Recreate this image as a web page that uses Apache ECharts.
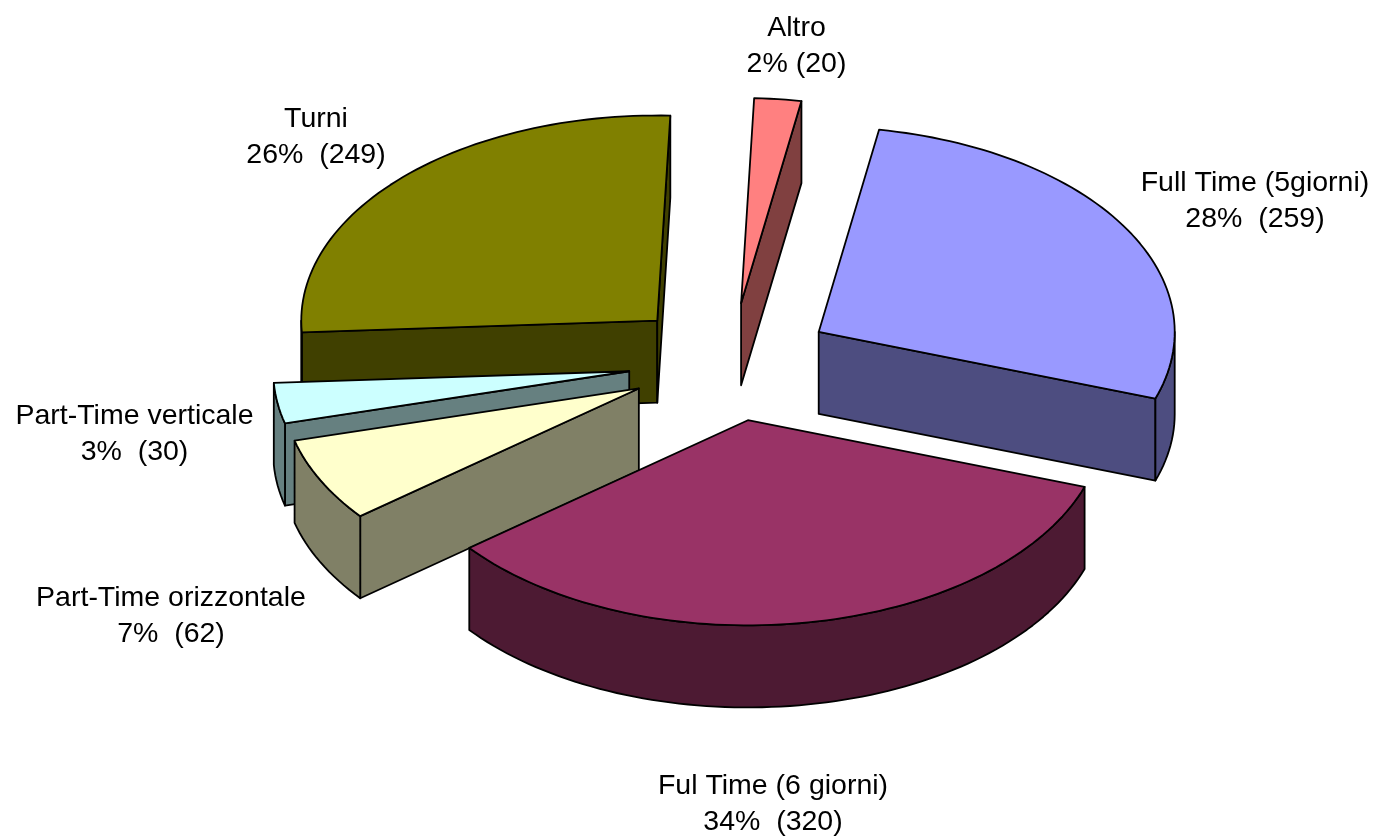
<!DOCTYPE html>
<html>
<head>
<meta charset="utf-8">
<style>html,body{margin:0;padding:0;background:#fff}#c{width:1375px;height:837px}</style>
<script src="https://cdn.jsdelivr.net/npm/echarts@6/dist/echarts.min.js"></script>
</head>
<body>
<div id="c"></div>
<script>
// Values in clockwise order, starting from the top of the pie
const names = ['Altro', 'Full Time (5giorni)', 'Ful Time (6 giorni)', 'Part-Time orizzontale', 'Part-Time verticale', 'Turni'];
const values = [20, 259, 320, 62, 30, 249];
const percents = ['2% (20)', '28%  (259)', '34%  (320)', '7%  (62)', '3%  (30)', '26%  (249)'];
const topColors = ['#FF8080', '#9999FF', '#993366', '#FFFFCC', '#CCFFFF', '#808000'];
const sideColors = ['#804040', '#4D4D80', '#4D1A33', '#808066', '#668080', '#404000'];
// Painter's order, back to front
const drawOrder = [5, 0, 1, 4, 3, 2];
// Label centres in pixels
const labelX = [796.5, 1255, 773, 171, 134.5, 316];
const labelY = [46, 201, 804, 616, 434, 137];

const START_DEG = 2.1, EXPLODE = 0.288, DEPTH = 0.4;
const total = values.reduce((a, b) => a + b, 0);
const starts = [];
values.reduce((acc, v, i) => { starts[i] = acc; return acc + v / total * 360; }, START_DEG);
const rad = d => d * Math.PI / 180;
const unit = d => [Math.sin(rad(d)), Math.cos(rad(d))];

function arc(cx, cy, from, to) {
  const n = Math.max(2, Math.ceil((to - from) / 1.5));
  const pts = [];
  for (let k = 0; k <= n; k++) {
    const u = unit(from + (to - from) * k / n);
    pts.push([cx + u[0], cy + u[1]]);
  }
  return pts;
}

function renderItem(params, api) {
  const i = api.value(0);
  const sweep = api.value(1) / total * 360;
  const a0 = starts[i], a1 = a0 + sweep, mid = (a0 + a1) / 2;
  const m = unit(mid);
  const cx = EXPLODE * m[0], cy = EXPLODE * m[1];
  const px = p => api.coord(p);
  const down = p => [p[0], p[1] - DEPTH];
  const shape = (pts, fill) => ({
    type: 'polygon',
    shape: { points: pts.map(px) },
    style: { fill: fill, stroke: '#000', lineWidth: 1.8, lineJoin: 'round' }
  });
  const outer = arc(cx, cy, a0, a1);
  const apex = [cx, cy];
  const first = outer[0], last = outer[outer.length - 1];
  const children = [];
  // A cut face shows only when the extrusion falls outside the wedge
  if (Math.sin(rad(a0)) < 0) children.push(shape([apex, first, down(first), down(apex)], sideColors[i]));
  if (Math.sin(rad(a1)) > 0) children.push(shape([apex, last, down(last), down(apex)], sideColors[i]));
  const rimFrom = Math.max(a0, 90), rimTo = Math.min(a1, 270);
  if (rimTo > rimFrom) {
    const rim = arc(cx, cy, rimFrom, rimTo);
    children.push(shape(rim.concat(rim.slice().reverse().map(down)), sideColors[i]));
  }
  children.push(shape([apex].concat(outer), topColors[i]));
  return { type: 'group', children: children };
}

function labelItem(params, api) {
  const i = api.value(0);
  return {
    type: 'text',
    style: {
      text: names[i] + '\n' + percents[i],
      x: labelX[i], y: labelY[i],
      align: 'center', verticalAlign: 'middle',
      font: '28.5px "Liberation Sans", Arial, sans-serif',
      lineHeight: 36, fill: '#000'
    }
  };
}

const chart = echarts.init(document.getElementById('c'), null, { renderer: 'canvas' });
chart.setOption({
  animation: false,
  backgroundColor: '#fff',
  grid: { left: 196.5, top: 3, width: 1068, height: 718 },
  xAxis: { type: 'value', min: -1.5, max: 1.5, show: false },
  yAxis: { type: 'value', min: -1.75, max: 1.75, show: false },
  series: [
    { type: 'custom', renderItem: renderItem, clip: false, silent: true,
      data: drawOrder.map(i => [i, values[i]]) },
    { type: 'custom', renderItem: labelItem, clip: false, silent: true,
      data: names.map((n, i) => [i, values[i]]) }
  ]
});
</script>
</body>
</html>
